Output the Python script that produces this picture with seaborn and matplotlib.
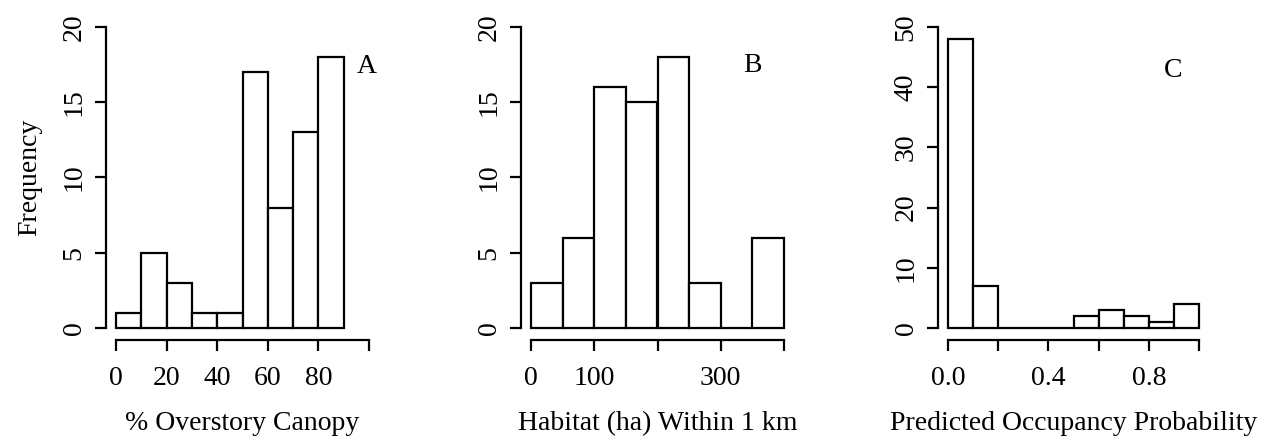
import numpy as np
import pandas as pd
import matplotlib
matplotlib.use("Agg")
import matplotlib.pyplot as plt
import seaborn as sns

# Histogram bin edges and counts for the three survey variables
canopy_edges = [0, 10, 20, 30, 40, 50, 60, 70, 80, 90]
canopy_counts = [1, 5, 3, 1, 1, 17, 8, 13, 18]

habitat_edges = [0, 50, 100, 150, 200, 250, 300, 350, 400]
habitat_counts = [3, 6, 16, 15, 18, 3, 0, 6]

occupancy_edges = [0.0, 0.1, 0.2, 0.3, 0.4, 0.5, 0.6, 0.7, 0.8, 0.9, 1.0]
occupancy_counts = [48, 7, 0, 0, 0, 2, 3, 2, 1, 4]

canopy_xticks = [0, 20, 40, 60, 80, 100]
canopy_xlabels = ["0", "20", "40", "60", "80", ""]
habitat_xticks = [0, 100, 200, 300, 400]
habitat_xlabels = ["0", "100", "", "300", ""]
occupancy_xticks = [0.0, 0.2, 0.4, 0.6, 0.8, 1.0]
occupancy_xlabels = ["0.0", "", "0.4", "", "0.8", ""]

canopy_yticks = [0, 5, 10, 15, 20]
habitat_yticks = [0, 5, 10, 15, 20]
occupancy_yticks = [0, 10, 20, 30, 40, 50]

panels = [
    dict(edges=canopy_edges, counts=canopy_counts, xticks=canopy_xticks,
         xlabels=canopy_xlabels, yticks=canopy_yticks, xrange=(0, 100),
         xlabel="% Overstory Canopy", letter="A", ylabel="Frequency",
         rect=(106, 273), letter_pos=(0.955, 0.852)),
    dict(edges=habitat_edges, counts=habitat_counts, xticks=habitat_xticks,
         xlabels=habitat_xlabels, yticks=habitat_yticks, xrange=(0, 400),
         xlabel="Habitat (ha) Within 1 km", letter="B", ylabel="",
         rect=(521, 273), letter_pos=(0.846, 0.855)),
    dict(edges=occupancy_edges, counts=occupancy_counts, xticks=occupancy_xticks,
         xlabels=occupancy_xlabels, yticks=occupancy_yticks, xrange=(0, 1),
         xlabel="Predicted Occupancy Probability", letter="C", ylabel="",
         rect=(938, 271), letter_pos=(0.867, 0.837)),
]

sns.set_style("ticks")
plt.rcParams["font.family"] = ["Liberation Serif", "DejaVu Serif"]
FS = 20

W, H = 1269, 441
fig = plt.figure(figsize=(W / 100, H / 100), dpi=100)
fig.patch.set_facecolor("white")

for p in panels:
    left, width = p["rect"]
    ax = fig.add_axes([left / W, 101 / H, width / W, 325 / H])
    edges = np.array(p["edges"], dtype=float)
    df = pd.DataFrame({"mid": (edges[:-1] + edges[1:]) / 2,
                       "count": np.array(p["counts"], dtype=float)})
    sns.histplot(data=df, x="mid", weights="count", bins=list(edges), ax=ax,
                 color="white", edgecolor="black", linewidth=1.6, alpha=1)

    x0, x1 = p["xrange"]
    xpad = 0.04 * (x1 - x0)
    ytop = p["yticks"][-1]
    ypad = 0.04 * ytop
    ax.set_xlim(x0 - xpad, x1 + xpad)
    ax.set_ylim(-ypad, ytop + ypad)

    for side in ("top", "right"):
        ax.spines[side].set_visible(False)
    ax.spines["left"].set_bounds(0, ytop)
    ax.spines["bottom"].set_bounds(x0, x1)
    for side in ("left", "bottom"):
        ax.spines[side].set_linewidth(1.6)
        ax.spines[side].set_color("black")

    ax.set_xticks(p["xticks"])
    ax.set_xticklabels(p["xlabels"])
    ax.set_yticks(p["yticks"])
    ax.set_yticklabels([str(v) for v in p["yticks"]], rotation=90, va="center")
    ax.tick_params(axis="both", direction="out", length=8, width=1.6,
                   color="black", labelcolor="black", labelsize=FS)
    ax.tick_params(axis="x", pad=11)
    ax.tick_params(axis="y", pad=6)

    ax.set_xlabel(p["xlabel"], fontsize=FS, labelpad=14, color="black")
    ax.set_ylabel(p["ylabel"], fontsize=FS, labelpad=14, color="black")
    ax.text(p["letter_pos"][0], p["letter_pos"][1], p["letter"],
            transform=ax.transAxes, ha="center", va="center_baseline",
            fontsize=FS, color="black")
    ax.set_facecolor("white")
    ax.grid(False)

fig.savefig("out.png", dpi=100, facecolor="white")
